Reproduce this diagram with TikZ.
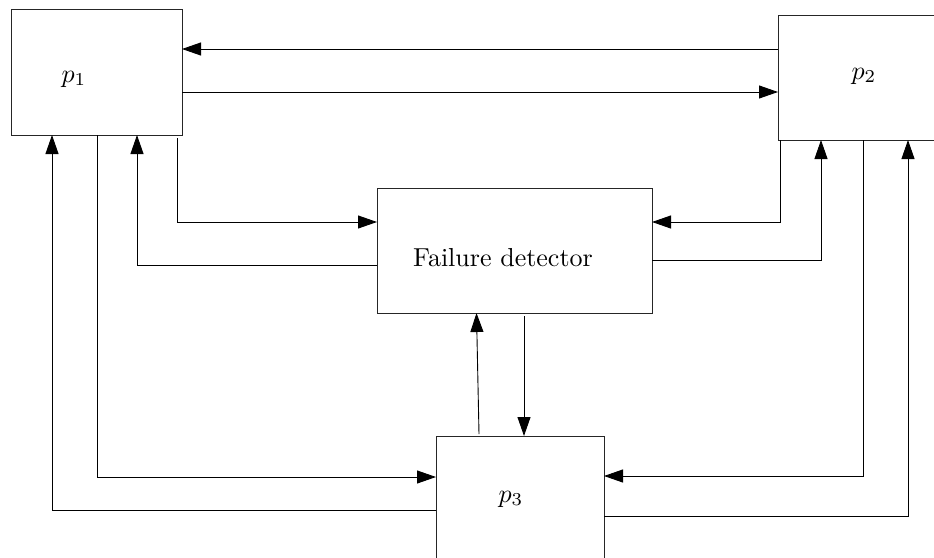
\documentclass[tikz,border=0pt]{standalone}
\usetikzlibrary{arrows.meta}
\begin{document}
\begin{tikzpicture}[x=1pt,y=-1pt,
  box/.style={draw=black!85, line width=0.9pt, rectangle, inner sep=0pt, outer sep=0pt},
  lbl/.style={font=\normalsize, scale=2.6, inner sep=0pt, anchor=base},
  arr/.style={line width=0.9pt, -{Triangle[length=19pt,width=13pt]}},
  ln/.style={line width=0.9pt}]
\useasboundingbox (0,0) rectangle (934,557);
\clip (0,0) rectangle (934,557);
\node[box, minimum width=171pt, minimum height=126pt] (p1) at (96.5,72) {};
\node[box, minimum width=158pt, minimum height=125pt] (p2) at (857,77.5) {};
\node[box, minimum width=275pt, minimum height=125pt] (fd) at (514.5,250.5) {};
\node[box, minimum width=168pt, minimum height=123pt] (p3) at (520,497.5) {};
\node[lbl] (p1l) at (74,82) {$p_1$};
\node[lbl] (p2l) at (864,79) {$p_2$};
\node[lbl] (fdl) at (503,266) {Failure detector};
\node[lbl] (p3l) at (511,502) {$p_3$};
% p1 <-> p2
\draw[arr] ([yshift=28.5pt]p2.west) -- ([yshift=23pt]p1.east);
\draw[arr] ([yshift=-20pt]p1.east) -- ([yshift=-14.5pt]p2.west);
% p1 <-> fd
\draw[arr] ([xshift=166pt,yshift=-3pt]p1.south west) |- ([yshift=28.5pt]fd.west);
\draw[arr] ([yshift=-14.5pt]fd.west) -| ([xshift=126pt]p1.south west);
% p2 <-> fd
\draw[arr] ([xshift=2pt]p2.south west) |- ([yshift=28.5pt]fd.east);
\draw[arr] ([yshift=-9.5pt]fd.east) -| ([xshift=43pt]p2.south west);
% p3 <-> fd
\draw[arr] ([xshift=-41pt,yshift=2pt]p3.north) -- ([xshift=-38pt]fd.south);
\draw[arr] ([xshift=9.5pt,yshift=-3pt]fd.south) -- ([xshift=4pt]p3.north);
% p1 <-> p3
\draw[arr] ([xshift=86pt]p1.south west) |- ([yshift=20.5pt]p3.west);
\draw[arr] ([yshift=-12.5pt]p3.west) -| ([xshift=41pt]p1.south west);
% p2 <-> p3
\draw[arr] ([xshift=85pt]p2.south west) |- ([yshift=21.5pt]p3.east);
\draw[arr] ([yshift=-18.5pt]p3.east) -| ([xshift=130pt]p2.south west);
\end{tikzpicture}
\end{document}
